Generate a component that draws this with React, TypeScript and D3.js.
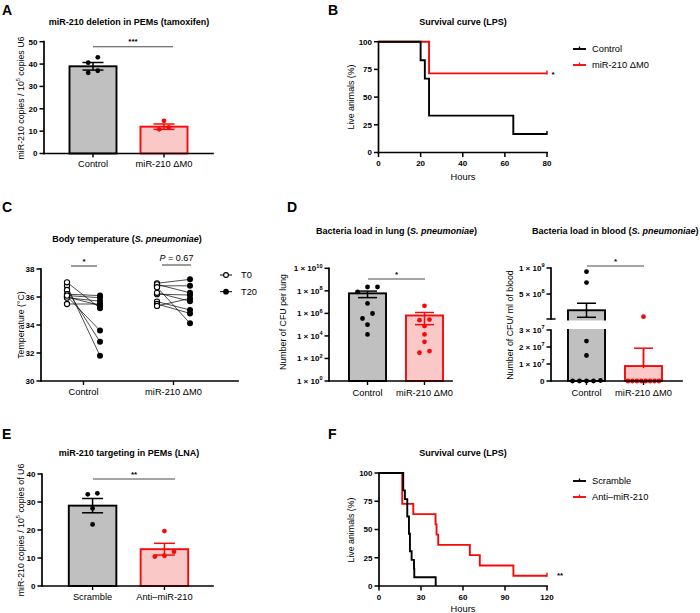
import React from "react";
import * as d3 from "d3";

const FONT = "'Liberation Sans', Arial, Helvetica, sans-serif";
const RED = "#f50a0a";
const RED_FILL = "#fbc8c8";
const GREY_FILL = "#c0c0c0";
const SIG = "#4a4a4a";

// ---------- Panel A ----------
const aCategories = ["Control", "miR-210 ΔM0"];
const aControl = [43.0, 40.6, 37.0, 36.1];
const aMir = [14.6, 11.7, 10.8];
const aMeans = [39.0, 12.0];
const aSem = [1.7, 1.2];
const aTicks = [0, 10, 20, 30, 40, 50];

// ---------- Panel B ----------
const bSeries = ["Control", "miR-210 ΔM0"];
const bControlHours = [0, 20, 22, 24, 64, 80];
const bControlSurv = [100, 83.3, 66.7, 33.3, 16.7, 16.7];
const bMirHours = [0, 24, 80];
const bMirSurv = [100, 71.4, 71.4];
const bXTicks = [0, 20, 40, 60, 80];
const bYTicks = [0, 25, 50, 75, 100];

// ---------- Panel C ----------
const cCategories = ["Control", "miR-210 ΔM0"];
const cLegend = ["T0", "T20"];
const cControlT0 = [36.8, 36.5, 36.05, 37.05, 36.2, 36.0, 35.95, 36.1, 35.5];
const cControlT20 = [31.8, 32.8, 33.6, 35.2, 36.1, 35.4, 35.7, 35.95, 35.5];
const cMirT0 = [36.98, 36.8, 36.9, 36.2, 36.3, 35.67, 35.5, 35.36, 36.7];
const cMirT20 = [37.26, 36.8, 36.3, 36.14, 35.7, 35.07, 34.83, 35.9, 34.12];
const cTicks = [30, 32, 34, 36, 38];

// ---------- Panel D (lung) ----------
const dLungCategories = ["Control", "miR-210 ΔM0"];
const dLungControl = [2.2e8, 2.2e8, 8.0e7, 7.6e6, 9.8e5, 3.5e5, 1.0e5, 1.35e4];
const dLungMir = [4.7e6, 2.8e5, 2.5e5, 7.4e4, 1.35e4, 3.0e3, 4.5e2, 3.2e2];
const dLungMeans = [6.0e7, 6.5e5];
const dLungSem = [3.5e7, 5.5e5];
const dLungExponents = [0, 2, 4, 6, 8, 10];

// ---------- Panel D (blood) ----------
const dBloodCategories = ["Control", "miR-210 ΔM0"];
const dBloodControl = [9.3e8, 7.2e8, 2.35e7, 1.5e7, 0, 3e5, 0, 0, 0];
const dBloodMir = [6.5e7, 0, 0, 0, 0, 0, 0, 0, 0];
const dBloodMeans = [1.88e8, 8.8e6];
const dBloodSem = [1.35e8, 1.05e7];
const dBloodLowerTicks = [0, 1e7, 2e7, 3e7];
const dBloodUpperTicks = [5e8, 1e9];

// ---------- Panel E ----------
const eCategories = ["Scramble", "Anti\u2013miR-210"];
const eScramble = [33.1, 32.75, 27.75, 22.0];
const eAnti = [19.6, 12.25, 10.8, 10.5];
const eMeans = [28.7, 13.15];
const eSem = [2.55, 2.1];
const eTicks = [0, 10, 20, 30, 40];

// ---------- Panel F ----------
const fSeries = ["Scramble", "Anti\u2013miR-210"];
const fScrambleHours = [0, 17.3, 18.5, 20.2, 21.4, 22.1, 23.3, 25.0, 25.2, 40.5];
const fScrambleSurv = [100, 84.6, 76.9, 61.5, 46.2, 30.8, 23.1, 15.4, 7.7, 0];
const fAntiHours = [0, 16.6, 24.5, 40.4, 41.1, 42.3, 64.9, 72.0, 96.0, 120];
const fAntiSurv = [100, 72.7, 63.6, 54.5, 45.5, 36.4, 27.3, 18.2, 9.1, 9.1];
const fXTicks = [0, 30, 60, 90, 120];
const fYTicks = [0, 25, 50, 75, 100];

// ---------- helpers ----------
function rowLayout(ys: number[], cx: number, maxSpread: number, gap = 6, sp = 9.6) {
  const idx = ys.map((_, i) => i).sort((a, b) => ys[a] - ys[b]);
  const xs = new Array(ys.length).fill(cx);
  let row: number[] = [];
  const flush = () => {
    const k = row.length;
    const s = k > 1 ? Math.min(sp, maxSpread / (k - 1)) : 0;
    const ordered = [...row].sort((a, b) => ys[b] - ys[a]);
    ordered.forEach((id, j) => {
      xs[id] = cx + (j - (k - 1) / 2) * s;
    });
    row = [];
  };
  for (const id of idx) {
    if (row.length && ys[id] - ys[row[0]] >= gap) flush();
    row.push(id);
  }
  flush();
  return xs;
}

function Sup({ base, exp }: { base: string; exp: string }) {
  return (
    <>
      {base}
      <tspan dy={-3.6} fontSize={5.6}>
        {exp}
      </tspan>
    </>
  );
}

function YAxis({ x, y0, y1, ticks }: { x: number; y0: number; y1: number; ticks: { y: number; label: React.ReactNode }[] }) {
  return (
    <g>
      <line x1={x} x2={x} y1={y0} y2={y1} stroke="#000" strokeWidth={1.7} strokeLinecap="square" />
      {ticks.map((t, i) => (
        <g key={i}>
          <line x1={x - 4.5} x2={x} y1={t.y} y2={t.y} stroke="#000" strokeWidth={1.5} />
          <text x={x - 6.5} y={t.y} dy="0.35em" textAnchor="end" fontSize={8} fontWeight="bold">
            {t.label}
          </text>
        </g>
      ))}
    </g>
  );
}

function XLine({ x0, x1, y }: { x0: number; x1: number; y: number }) {
  return <line x1={x0} x2={x1} y1={y} y2={y} stroke="#000" strokeWidth={1.7} strokeLinecap="square" />;
}

function YLabel({ x, y, children }: { x: number; y: number; children: React.ReactNode }) {
  return (
    <text transform={`translate(${x},${y}) rotate(-90)`} textAnchor="middle" fontSize={8.8}>
      {children}
    </text>
  );
}

function Sig({ x1, x2, y, label }: { x1: number; x2: number; y: number; label: React.ReactNode }) {
  return (
    <g>
      <line x1={x1} x2={x2} y1={y} y2={y} stroke={SIG} strokeWidth={1.1} />
      <text x={(x1 + x2) / 2} y={y - 2.5} textAnchor="middle" fontSize={8} fontWeight="bold">
        {label}
      </text>
    </g>
  );
}

function ErrBar({ cx, yTop, yBot, color, half = 10.5 }: { cx: number; yTop: number; yBot: number | null; color: string; half?: number }) {
  return (
    <g stroke={color} strokeWidth={1.5}>
      <line x1={cx} x2={cx} y1={yTop} y2={yBot ?? yTop + 20} />
      <line x1={cx - half} x2={cx + half} y1={yTop} y2={yTop} />
      {yBot !== null && <line x1={cx - half} x2={cx + half} y1={yBot} y2={yBot} />}
    </g>
  );
}

type BarPanelProps = {
  cats: string[];
  groups: number[][];
  means: number[];
  sems: number[];
  y: d3.ScaleLinear<number, number>;
  ticks: number[];
  axisX0: number;
  axisX1: number;
  bandRange: [number, number];
};

function BarPanel({ cats, groups, means, sems, y, ticks, axisX0, axisX1, bandRange }: BarPanelProps) {
  const x = d3.scaleBand<string>().domain(cats).range(bandRange).paddingInner(0.338).paddingOuter(0.359);
  const bw = x.bandwidth();
  const y0 = y(0);
  const [top] = y.range().slice(1);
  return (
    <g>
      {cats.map((c, i) => {
        const isRed = i === 1;
        const cx = (x(c) as number) + bw / 2;
        const ys = groups[i].map((v) => y(v));
        const xs = rowLayout(ys, cx, bw - 8);
        return (
          <g key={c}>
            <rect
              x={x(c)}
              y={y(means[i])}
              width={bw}
              height={y0 - y(means[i])}
              fill={isRed ? RED_FILL : GREY_FILL}
              stroke={isRed ? RED : "#000"}
              strokeWidth={1.9}
            />
            <ErrBar cx={cx} yTop={y(means[i] + sems[i])} yBot={y(means[i] - sems[i])} color={isRed ? RED : "#000"} />
            {groups[i].map((v, j) => (
              <circle key={j} cx={xs[j]} cy={ys[j]} r={2.4} fill={isRed ? RED : "#000"} />
            ))}
            <line x1={cx} x2={cx} y1={y0} y2={y0 + 4} stroke="#000" strokeWidth={1.4} />
            <text x={cx} y={y0 + 13.5} textAnchor="middle" fontSize={9.3}>
              {c}
            </text>
          </g>
        );
      })}
      <XLine x0={axisX0} x1={axisX1} y={y0} />
      <YAxis x={axisX0} y0={y0} y1={top} ticks={ticks.map((t) => ({ y: y(t), label: String(t) }))} />
    </g>
  );
}

type SurvSeries = { name: string; hours: number[]; surv: number[]; color: string };

function SurvivalPanel({
  series,
  x,
  y,
  xTicks,
  yTicks,
  legendY,
  starLabel,
  starPos,
}: {
  series: SurvSeries[];
  x: d3.ScaleLinear<number, number>;
  y: d3.ScaleLinear<number, number>;
  xTicks: number[];
  yTicks: number[];
  legendY: number[];
  starLabel: string;
  starPos: [number, number];
}) {
  const line = d3
    .line<[number, number]>()
    .x((d) => x(d[0]))
    .y((d) => y(d[1]))
    .curve(d3.curveStepAfter);
  const [x0, x1] = x.range();
  const [yb, yt] = y.range();
  return (
    <g>
      <XLine x0={x0} x1={x1} y={yb} />
      {xTicks.map((t) => (
        <g key={t}>
          <line x1={x(t)} x2={x(t)} y1={yb} y2={yb + 4.5} stroke="#000" strokeWidth={1.5} />
          <text x={x(t)} y={yb + 13.5} textAnchor="middle" fontSize={8} fontWeight="bold">
            {t}
          </text>
        </g>
      ))}
      <YAxis x={x0} y0={yb} y1={yt} ticks={yTicks.map((t) => ({ y: y(t), label: String(t) }))} />
      {series
        .slice()
        .reverse()
        .map((s) => {
          const pts = s.hours.map((h, i) => [h, s.surv[i]] as [number, number]);
          const last = pts[pts.length - 1];
          return (
            <g key={s.name}>
              <path d={line(pts) as string} fill="none" stroke={s.color} strokeWidth={1.9} />
              {last[1] > 0 && (
                <line x1={x(last[0])} x2={x(last[0])} y1={y(last[1]) - 3} y2={y(last[1]) + 1} stroke={s.color} strokeWidth={1.4} />
              )}
            </g>
          );
        })}
      {series.map((s, i) => (
        <g key={s.name}>
          <line x1={573} x2={586} y1={legendY[i]} y2={legendY[i]} stroke={s.color} strokeWidth={1.9} />
          <line x1={579.5} x2={579.5} y1={legendY[i] - 2.5} y2={legendY[i]} stroke={s.color} strokeWidth={1.3} />
          <text x={592} y={legendY[i]} dy="0.35em" fontSize={9.3}>
            {s.name}
          </text>
        </g>
      ))}
      <text x={starPos[0]} y={starPos[1]} textAnchor="middle" fontSize={8} fontWeight="bold">
        {starLabel}
      </text>
    </g>
  );
}

function PanelLetter({ x, y, ch }: { x: number; y: number; ch: string }) {
  return (
    <text x={x} y={y} fontSize={14} fontWeight="bold">
      {ch}
    </text>
  );
}

function Title({ x, y, children, anchor = "middle" }: { x: number; y: number; children: React.ReactNode; anchor?: string }) {
  return (
    <text x={x} y={y} textAnchor={anchor as any} fontSize={9} fontWeight="bold">
      {children}
    </text>
  );
}

export default function App() {
  // Panel A
  const aY = d3.scaleLinear().domain([0, 50]).range([153.5, 41.7]);
  // Panel B
  const bX = d3.scaleLinear().domain([0, 80]).range([378.5, 547]);
  const bY = d3.scaleLinear().domain([0, 100]).range([152.5, 41.7]);
  // Panel C
  const cY = d3.scaleLinear().domain([30, 38]).range([381, 269]);
  const cX = d3.scalePoint<string>().domain(cCategories).range([83.5, 173.5]);
  const cOff = 16.5;
  // Panel D lung
  const dlY = d3.scaleLog().domain([1, 1e10]).range([381, 268.3]);
  const dlX = d3.scaleBand<string>().domain(dLungCategories).range([339, 453]).paddingInner(0.35).paddingOuter(0.175);
  // Panel D blood
  const dbLow = d3.scaleLinear().domain([0, 3e7]).range([381, 330]);
  const dbUp = d3.scaleLinear().domain([2e7, 1e9]).range([319, 268]);
  const dbY = (v: number) => (v <= 3e7 ? dbLow(v) : dbUp(v));
  const dbX = d3.scaleBand<string>().domain(dBloodCategories).range([558, 672]).paddingInner(0.35).paddingOuter(0.175);
  // Panel E
  const eY = d3.scaleLinear().domain([0, 40]).range([586, 474]);
  // Panel F
  const fX = d3.scaleLinear().domain([0, 120]).range([379, 547]);
  const fY = d3.scaleLinear().domain([0, 100]).range([586, 473]);

  const cGroups = [
    { t0: cControlT0, t20: cControlT20 },
    { t0: cMirT0, t20: cMirT20 },
  ];

  const dlBw = dlX.bandwidth();
  const dbBw = dbX.bandwidth();

  return (
    <svg width={700} height={613} style={{ position: "absolute", left: 0, top: 0, background: "#fff" }} fontFamily={FONT}>
      <rect width={700} height={613} fill="#fff" />

      {/* ===== A ===== */}
      <PanelLetter x={2} y={15} ch="A" />
      <Title x={129} y={25}>miR-210 deletion in PEMs (tamoxifen)</Title>
      <YLabel x={24} y={98}>
        <Sup base="miR-210 copies / 10" exp="5" />
        <tspan dy={3.6}> copies U6</tspan>
      </YLabel>
      <BarPanel
        cats={aCategories}
        groups={[aControl, aMir]}
        means={aMeans}
        sems={aSem}
        y={aY}
        ticks={aTicks}
        axisX0={44}
        axisX1={213}
        bandRange={[44, 213]}
      />
      <Sig x1={93} x2={173} y={46.7} label="***" />

      {/* ===== B ===== */}
      <PanelLetter x={328} y={15} ch="B" />
      <Title x={463} y={25}>Survival curve (LPS)</Title>
      <YLabel x={354} y={97}>Live animals (%)</YLabel>
      <SurvivalPanel
        series={[
          { name: bSeries[0], hours: bControlHours, surv: bControlSurv, color: "#000" },
          { name: bSeries[1], hours: bMirHours, surv: bMirSurv, color: RED },
        ]}
        x={bX}
        y={bY}
        xTicks={bXTicks}
        yTicks={bYTicks}
        legendY={[49, 65]}
        starLabel="*"
        starPos={[553, 77]}
      />
      <text x={463} y={180} textAnchor="middle" fontSize={9.3}>
        Hours
      </text>

      {/* ===== C ===== */}
      <PanelLetter x={2} y={212} ch="C" />
      <Title x={127} y={242}>
        Body temperature (<tspan fontStyle="italic">S. pneumoniae</tspan>)
      </Title>
      <YLabel x={24} y={325}>Temperature (°C)</YLabel>
      {cCategories.map((c, gi) => {
        const cx = cX(c) as number;
        const g = cGroups[gi];
        return (
          <g key={c}>
            {g.t0.map((v, i) => (
              <line key={i} x1={cx - cOff} y1={cY(v)} x2={cx + cOff} y2={cY(g.t20[i])} stroke="#000" strokeWidth={0.7} />
            ))}
            {g.t0.map((v, i) => (
              <circle key={"a" + i} cx={cx - cOff} cy={cY(v)} r={2.6} fill="#fff" stroke="#000" strokeWidth={1.1} />
            ))}
            {g.t20.map((v, i) => (
              <circle key={"b" + i} cx={cx + cOff} cy={cY(v)} r={3} fill="#000" />
            ))}
            <line x1={cx} x2={cx} y1={381} y2={385} stroke="#000" strokeWidth={1.4} />
            <text x={cx} y={394.5} textAnchor="middle" fontSize={9.3}>
              {c}
            </text>
          </g>
        );
      })}
      <XLine x0={41} x1={238} y={381} />
      <YAxis x={41} y0={381} y1={269} ticks={cTicks.map((t) => ({ y: cY(t), label: String(t) }))} />
      <Sig x1={71} x2={97} y={266} label="*" />
      <line x1={162} x2={191} y1={265} y2={265} stroke={SIG} strokeWidth={1.1} />
      <text x={176.5} y={261} textAnchor="middle" fontSize={9}>
        <tspan fontStyle="italic">P</tspan> = 0.67
      </text>
      {cLegend.map((l, i) => {
        const ly = i === 0 ? 275 : 291.7;
        return (
          <g key={l}>
            <line x1={220} x2={232} y1={ly} y2={ly} stroke="#000" strokeWidth={1} />
            {i === 0 ? (
              <circle cx={226} cy={ly} r={2.4} fill="#fff" stroke="#000" strokeWidth={1.1} />
            ) : (
              <circle cx={226} cy={ly} r={2.9} fill="#000" />
            )}
            <text x={241} y={ly} dy="0.35em" fontSize={9.3}>
              {l}
            </text>
          </g>
        );
      })}

      {/* ===== D lung ===== */}
      <PanelLetter x={287} y={212} ch="D" />
      <Title x={316} y={234} anchor="start">
        Bacteria load in lung (<tspan fontStyle="italic">S. pneumoniae</tspan>)
      </Title>
      <YLabel x={286} y={322}>Number of CFU per lung</YLabel>
      {dLungCategories.map((c, i) => {
        const isRed = i === 1;
        const bx = dlX(c) as number;
        const cx = bx + dlBw / 2;
        const pts = i === 0 ? dLungControl : dLungMir;
        const ys = pts.map((v) => dlY(v));
        const xs = rowLayout(ys, cx, dlBw - 8, 5.5, 10);
        return (
          <g key={c}>
            <rect
              x={bx}
              y={dlY(dLungMeans[i])}
              width={dlBw}
              height={381 - dlY(dLungMeans[i])}
              fill={isRed ? RED_FILL : GREY_FILL}
              stroke={isRed ? RED : "#000"}
              strokeWidth={1.9}
            />
            <ErrBar
              cx={cx}
              yTop={dlY(dLungMeans[i] + dLungSem[i])}
              yBot={dlY(dLungMeans[i] - dLungSem[i])}
              color={isRed ? RED : "#000"}
              half={9.5}
            />
            {pts.map((v, j) => (
              <circle key={j} cx={xs[j]} cy={ys[j]} r={2.4} fill={isRed ? RED : "#000"} />
            ))}
            <line x1={cx} x2={cx} y1={381} y2={385} stroke="#000" strokeWidth={1.4} />
            <text x={cx} y={396} textAnchor="middle" fontSize={9.3}>
              {c}
            </text>
          </g>
        );
      })}
      <XLine x0={329} x1={452} y={381} />
      <YAxis
        x={329}
        y0={381}
        y1={268.3}
        ticks={dLungExponents.map((e) => ({ y: dlY(Math.pow(10, e)), label: <Sup base="1 × 10" exp={String(e)} /> }))}
      />
      <Sig x1={368} x2={425} y={279} label="*" />

      {/* ===== D blood ===== */}
      <Title x={532} y={234} anchor="start">
        Bacteria load in blood (<tspan fontStyle="italic">S. pneumoniae</tspan>)
      </Title>
      <YLabel x={513} y={325}>Number of CFU/ ml of blood</YLabel>
      {dBloodCategories.map((c, i) => {
        const isRed = i === 1;
        const bx = dbX(c) as number;
        const cx = bx + dbBw / 2;
        const pts = i === 0 ? dBloodControl : dBloodMir;
        const ys = pts.map((v) => dbY(v));
        const xs = rowLayout(ys, cx, dbBw - 6, 5, 7);
        const m = dBloodMeans[i];
        const lo = m - dBloodSem[i];
        return (
          <g key={c}>
            <rect
              x={bx}
              y={dbY(m)}
              width={dbBw}
              height={381 - dbY(m)}
              fill={isRed ? RED_FILL : GREY_FILL}
              stroke={isRed ? RED : "#000"}
              strokeWidth={1.9}
            />
            {m > 3e7 && <rect x={bx - 2} y={320.5} width={dbBw + 4} height={8.5} fill="#fff" />}
            <ErrBar cx={cx} yTop={dbY(m + dBloodSem[i])} yBot={lo > 0 ? dbY(lo) : null} color={isRed ? RED : "#000"} half={9.5} />
            {lo <= 0 && <line x1={cx} x2={cx} y1={dbY(m + dBloodSem[i])} y2={dbY(m)} stroke={RED} strokeWidth={1.5} />}
            {pts.map((v, j) => (
              <circle key={j} cx={xs[j]} cy={ys[j]} r={2.4} fill={isRed ? RED : "#000"} />
            ))}
            <line x1={cx} x2={cx} y1={381} y2={385} stroke="#000" strokeWidth={1.4} />
            <text x={cx} y={396} textAnchor="middle" fontSize={9.3}>
              {c}
            </text>
          </g>
        );
      })}
      <XLine x0={551} x1={682} y={381} />
      <YAxis
        x={551}
        y0={381}
        y1={330}
        ticks={dBloodLowerTicks.map((t) => ({
          y: dbLow(t),
          label: t === 0 ? "0" : <Sup base={`${t / 1e7} × 10`} exp="7" />,
        }))}
      />
      <YAxis
        x={551}
        y0={319}
        y1={268}
        ticks={dBloodUpperTicks.map((t) => ({
          y: dbUp(t),
          label: t === 1e9 ? <Sup base="1 × 10" exp="9" /> : <Sup base="5 × 10" exp="8" />,
        }))}
      />
      <line x1={546.5} x2={555.5} y1={319} y2={319} stroke="#000" strokeWidth={1.5} />
      <Sig x1={587} x2={644} y={266} label="*" />

      {/* ===== E ===== */}
      <PanelLetter x={2} y={439} ch="E" />
      <Title x={129} y={456}>miR-210 targeting in PEMs (LNA)</Title>
      <YLabel x={24} y={530}>
        <Sup base="miR-210 copies / 10" exp="5" />
        <tspan dy={3.6}> copies of U6</tspan>
      </YLabel>
      <BarPanel
        cats={eCategories}
        groups={[eScramble, eAnti]}
        means={eMeans}
        sems={eSem}
        y={eY}
        ticks={eTicks}
        axisX0={42}
        axisX1={213}
        bandRange={[43, 214]}
      />
      <Sig x1={93} x2={175} y={479} label="**" />

      {/* ===== F ===== */}
      <PanelLetter x={328} y={439} ch="F" />
      <Title x={463} y={456}>Survival curve (LPS)</Title>
      <YLabel x={354} y={530}>Live animals (%)</YLabel>
      <SurvivalPanel
        series={[
          { name: fSeries[0], hours: fScrambleHours, surv: fScrambleSurv, color: "#000" },
          { name: fSeries[1], hours: fAntiHours, surv: fAntiSurv, color: RED },
        ]}
        x={fX}
        y={fY}
        xTicks={fXTicks}
        yTicks={fYTicks}
        legendY={[481, 497]}
        starLabel="**"
        starPos={[560, 578]}
      />
      <text x={463} y={612} textAnchor="middle" fontSize={9.3}>
        Hours
      </text>
    </svg>
  );
}
